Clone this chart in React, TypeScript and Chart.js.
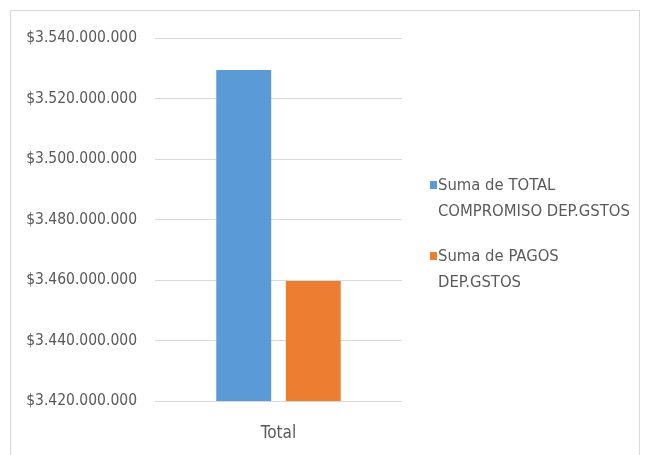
import React, { useEffect, useRef } from "react";
import { Chart, registerables } from "chart.js";

Chart.register(...registerables);

const categories = ["Total"];
const seriesNames = [
  ["Suma de TOTAL", "COMPROMISO DEP.GSTOS"],
  ["Suma de PAGOS", "DEP.GSTOS"],
];
const compromisoValues = [3529400000];
const pagosValues = [3459700000];
const seriesColors = ["#5B9BD5", "#ED7D31"];
const yMin = 3420000000;
const yMax = 3540000000;
const yStep = 20000000;

const FONT = "'Liberation Sans Narrow', 'DejaVu Sans Condensed', 'Liberation Sans', sans-serif";

function fmt(v: number): string {
  const s = Math.round(v).toString();
  return "$" + s.replace(/\B(?=(\d{3})+(?!\d))/g, ".");
}

export default function App() {
  const ref = useRef<HTMLCanvasElement | null>(null);
  useEffect(() => {
    document.body.style.margin = "0";
    if (!ref.current) return;
    const chart = new Chart(ref.current, {
      type: "bar",
      data: {
        labels: categories,
        datasets: [
          {
            label: seriesNames[0].join(" "),
            data: compromisoValues,
            backgroundColor: seriesColors[0],
            barPercentage: 0.79,
            categoryPercentage: 0.563,
          },
          {
            label: seriesNames[1].join(" "),
            data: pagosValues,
            backgroundColor: seriesColors[1],
            barPercentage: 0.79,
            categoryPercentage: 0.563,
          },
        ],
      },
      options: {
        animation: false,
        responsive: false,
        maintainAspectRatio: false,
        layout: { padding: { left: 0, top: 38, right: 243, bottom: 0 } },
        plugins: { legend: { display: false }, tooltip: { enabled: false } },
        scales: {
          x: {
            grid: { display: false, drawTicks: false },
            border: { display: false },
            ticks: { color: "#595959", font: { family: FONT, size: 17 }, padding: 22 },
            afterFit: (s: any) => { s.height = 54; },
          },
          y: {
            min: yMin,
            max: yMax,
            grid: { color: "#d9d9d9", drawTicks: false, lineWidth: 1 },
            border: { display: false },
            ticks: {
              stepSize: yStep,
              color: "#595959",
              font: { family: FONT, size: 15.5 },
              padding: 18,
              callback: (v: any) => fmt(Number(v)),
            },
            afterFit: (s: any) => { s.width = 155; },
          },
        },
      },
    });
    return () => chart.destroy();
  }, []);

  const legendText: React.CSSProperties = {
    fontFamily: FONT,
    fontSize: 16.5,
    color: "#595959",
    lineHeight: "26px",
  };

  return (
    <div style={{ position: "fixed", left: 0, top: 0, width: 645, height: 455, background: "#fff", overflow: "hidden" }}>
      <canvas ref={ref} width={645} height={455} style={{ position: "absolute", left: 0, top: 0, width: 645, height: 455 }} />
      <div style={{ position: "absolute", left: 10, top: 10, width: 630, height: 460, border: "1px solid #d9d9d9", boxSizing: "border-box" }} />
      {seriesNames.map((lines, i) => (
        <div key={i} style={{ position: "absolute", left: 430, top: 172 + i * 71, ...legendText }}>
          <span style={{ position: "absolute", left: 0, top: 9, width: 7, height: 8, background: seriesColors[i] }} />
          <div style={{ marginLeft: 8, whiteSpace: "nowrap" }}>
            {lines.map((l, j) => (
              <div key={j}>{l}</div>
            ))}
          </div>
        </div>
      ))}
    </div>
  );
}
